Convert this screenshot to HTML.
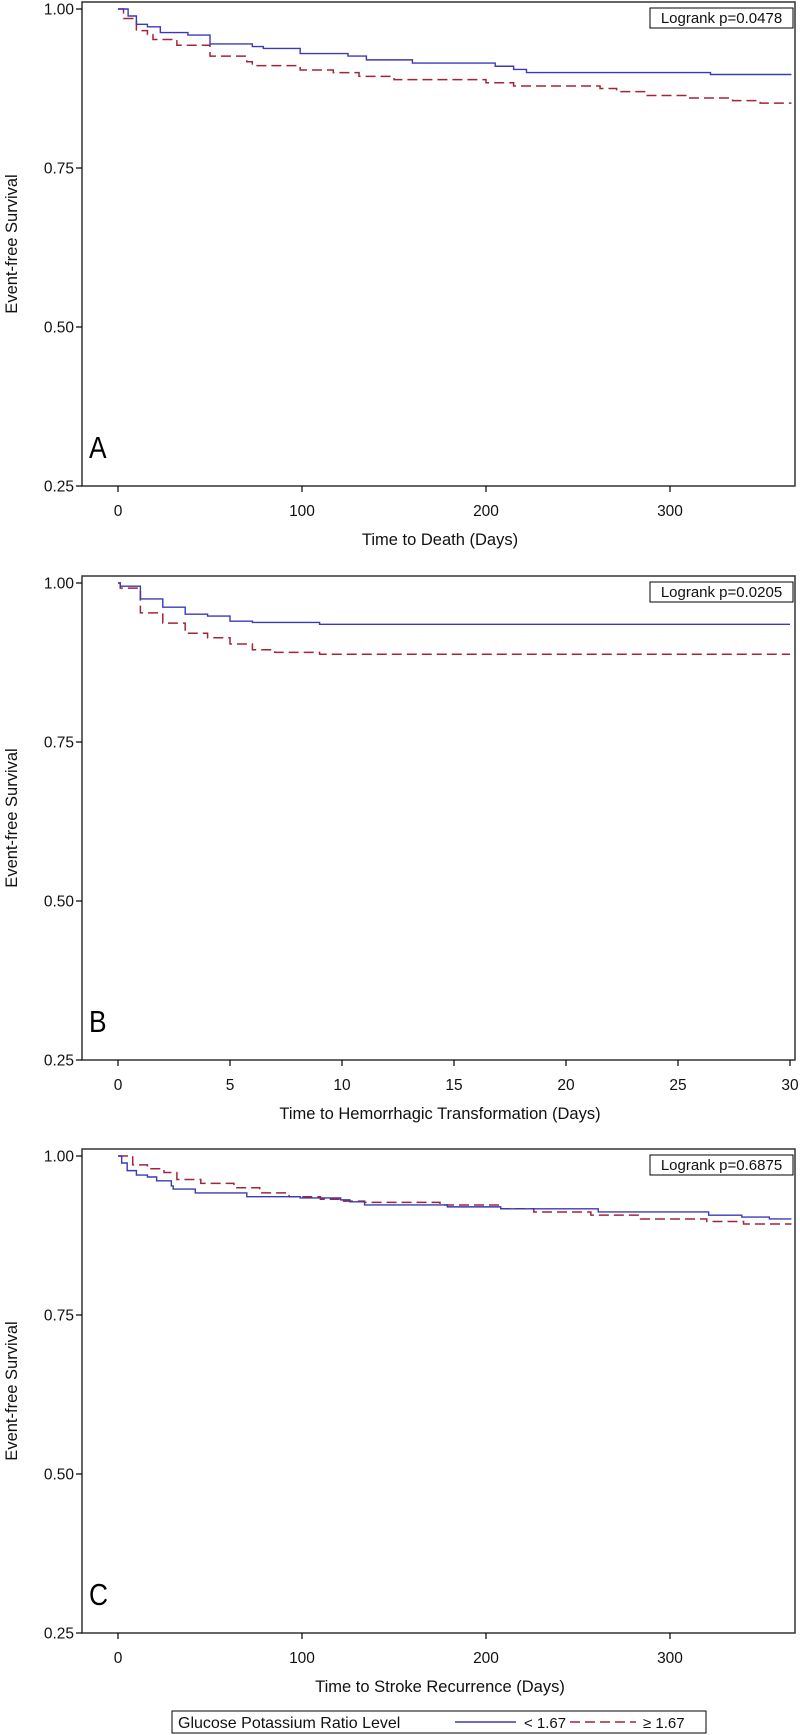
<!DOCTYPE html>
<html><head><meta charset="utf-8"><style>
html,body{margin:0;padding:0;background:#fff;}
svg{display:block;font-family:"Liberation Sans",sans-serif;}
</style></head><body>
<svg id="fig" width="800" height="1735" viewBox="0 0 800 1735" xmlns="http://www.w3.org/2000/svg"></svg>
<script>
// Panel A: time to death
const aBlueT = [0,5.5,10,16,23,38,50,73,79,99,125,135,160,205,215,222,322,366];
const aBlueS = [1,0.989,0.976,0.972,0.963,0.959,0.945,0.941,0.938,0.930,0.926,0.920,0.915,0.910,0.905,0.900,0.897,0.897];
const aRedT = [0,3,10,16,19,32,50,70,73,99,117,131,150,200,215,262,271,287,309,334,349,366];
const aRedS = [1,0.985,0.966,0.960,0.952,0.943,0.926,0.917,0.911,0.904,0.900,0.894,0.889,0.884,0.879,0.875,0.870,0.864,0.860,0.856,0.852,0.852];
// Panel B: hemorrhagic transformation
const bBlueT = [0,0.1,1,2,3,4,5,6,9,30];
const bBlueS = [1,0.995,0.975,0.962,0.951,0.948,0.940,0.938,0.935,0.935];
const bRedT = [0,0.1,1,2,3,4,5,6,7,9,30];
const bRedS = [1,0.992,0.953,0.937,0.921,0.914,0.904,0.895,0.891,0.888,0.888];
// Panel C: stroke recurrence
const cBlueT = [0,2,5,10,16,21,29,30,42,70,99,121,126,134,179,208,261,321,339,354,366];
const cBlueS = [1,0.989,0.977,0.970,0.967,0.961,0.953,0.948,0.942,0.936,0.934,0.931,0.928,0.923,0.920,0.917,0.912,0.907,0.904,0.901,0.901];
const cRedT = [0,1,8,16,25,32,45,63,77,93,110,122,134,175,208,226,257,284,320,340,366];
const cRedS = [1,1,0.986,0.980,0.974,0.963,0.957,0.950,0.942,0.936,0.932,0.929,0.927,0.923,0.917,0.912,0.907,0.901,0.897,0.893,0.893];
const yTicks = [1.00,0.75,0.50,0.25];
const yTickLabels = ["1.00","0.75","0.50","0.25"];
const aXTicks = [0,100,200,300];
const bXTicks = [0,5,10,15,20,25,30];
const cXTicks = [0,100,200,300];
const pValues = ["Logrank p=0.0478","Logrank p=0.0205","Logrank p=0.6875"];
const xTitles = ["Time to Death (Days)","Time to Hemorrhagic Transformation (Days)","Time to Stroke Recurrence (Days)"];
const letters = ["A","B","C"];

const NS = "http://www.w3.org/2000/svg";
const svg = document.getElementById('fig');
function mk(tag, attrs, parent){
  const e = document.createElementNS(NS, tag);
  for (const k in attrs) e.setAttribute(k, attrs[k]);
  (parent||svg).appendChild(e);
  return e;
}
const L = 82, R = 795;
function panel(idx, off, xPerUnit, xTicks, blueT, blueS, redT, redS){
  const g = mk('g', {});
  
  
  const top = 2 + off, bottom = 486 + off;
  const y = v => (9 + off) + (1 - v) * 636;
  const x = t => 118 + t * xPerUnit;
  const frame = mk('rect', {x:L, y:top, width:R-L, height:bottom-top, fill:'none', stroke:'#333', 'stroke-width':1.5}, g);
  
  
  yTicks.forEach((v,i)=>{
    const tk = mk('line', {x1:76, x2:L, y1:y(v), y2:y(v), stroke:'#000', 'stroke-width':1.2}, g);
    
    
    const t = mk('text', {x:74, y:y(v)+5.5, 'text-anchor':'end', 'font-size':15.5, fill:'#111'}, g);
    t.textContent = yTickLabels[i];
    
    
  });
  xTicks.forEach(v=>{
    const tk = mk('line', {x1:x(v), x2:x(v), y1:bottom, y2:bottom+6, stroke:'#000', 'stroke-width':1.2}, g);
    
    
    const t = mk('text', {x:x(v), y:bottom+30, 'text-anchor':'middle', 'font-size':15.5, fill:'#111'}, g);
    t.textContent = String(v);
    
    
  });
  const xt = mk('text', {x:440, y:bottom+59, 'text-anchor':'middle', 'font-size':16.5, fill:'#111'}, g);
  xt.textContent = xTitles[idx];
  
  
  const cy = (top+bottom)/2;
  const yt = mk('text', {x:0, y:0, transform:`translate(17,${cy}) rotate(-90)`, 'text-anchor':'middle', 'font-size':16.5, fill:'#111'}, g);
  yt.textContent = 'Event-free Survival';
  
  
  const lt = mk('text', {x:89, y:bottom-28, 'font-size':31, fill:'#000'}, g);
  lt.setAttribute('transform', `translate(89,${bottom-28}) scale(0.85,1) translate(-89,${-(bottom-28)})`);
  lt.textContent = letters[idx];
  
  
  const box = mk('rect', {x:650, y:top+6, width:143, height:20, fill:'#fff', stroke:'#000', 'stroke-width':1}, g);
  
  
  const pt = mk('text', {x:721.5, y:top+21, 'text-anchor':'middle', 'font-size':15, fill:'#111'}, g);
  pt.textContent = pValues[idx];
  
  
  function step(T, S){
    let d = `M${x(T[0])},${y(S[0])}`;
    for (let i=1;i<T.length;i++){ d += ` H${x(T[i])} V${y(S[i])}`; }
    return d;
  }
  const rp = mk('path', {d:step(redT, redS), fill:'none', stroke:'#a3243a', 'stroke-width':1.5, 'stroke-dasharray':'10,5'}, g);
  
  
  const bp = mk('path', {d:step(blueT, blueS), fill:'none', stroke:'#3a3ab8', 'stroke-width':1.4}, g);
  
  
}
panel(0, 0, 1.84, aXTicks, aBlueT, aBlueS, aRedT, aRedS);
panel(1, 574, 22.4, bXTicks, bBlueT, bBlueS, bRedT, bRedS);
panel(2, 1147, 1.84, cXTicks, cBlueT, cBlueS, cRedT, cRedS);

// legend
const lg = mk('g', {});


const lb = mk('rect', {x:172, y:1711, width:534, height:22, fill:'#fff', stroke:'#000', 'stroke-width':1}, lg);


const lt1 = mk('text', {x:178, y:1728, 'font-size':16, fill:'#111'}, lg);
lt1.textContent = 'Glucose Potassium Ratio Level';


const l1 = mk('line', {x1:455, x2:516, y1:1722, y2:1722, stroke:'#3a3ab8', 'stroke-width':1.4}, lg);


const t1 = mk('text', {x:524, y:1728, 'font-size':15, fill:'#111'}, lg);
t1.textContent = '< 1.67';


const l2 = mk('line', {x1:570, x2:636, y1:1722, y2:1722, stroke:'#a3243a', 'stroke-width':1.5, 'stroke-dasharray':'10,5'}, lg);


const t2 = mk('text', {x:643, y:1728, 'font-size':15, fill:'#111'}, lg);
t2.textContent = '≥ 1.67';


</script>
</body></html>
